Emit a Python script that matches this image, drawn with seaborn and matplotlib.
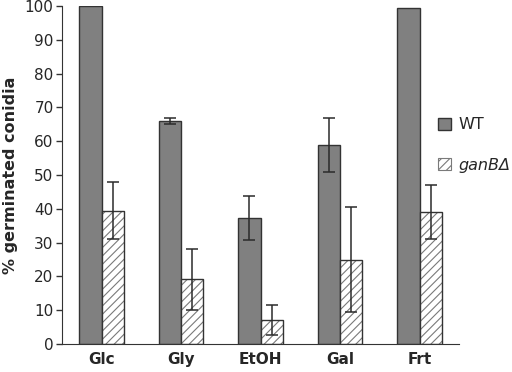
import pandas as pd
import seaborn as sns
import matplotlib.pyplot as plt
from matplotlib.patches import Patch, Rectangle

# Values
sugars = ['Glc', 'Gly', 'EtOH', 'Gal', 'Frt']
wt_mean = [100, 66, 37.3, 59, 99.5]
wt_err = [0, 1, 6.5, 8, 0]
ganb_mean = [39.5, 19.2, 7.2, 25, 39]
ganb_err = [8.5, 9, 4.5, 15.5, 8]
strains = ['WT', 'ganBΔ']

sns.set_style('white')
plt.rcParams['font.family'] = ['DejaVu Sans']
plt.rcParams['hatch.linewidth'] = 0.8

data = pd.DataFrame({
    'sugar': sugars * 2,
    'strain': [strains[0]] * 5 + [strains[1]] * 5,
    'germ': wt_mean + ganb_mean,
    'err': wt_err + ganb_err,
})

fig = plt.figure(figsize=(5.12, 3.72), dpi=100)
ax = fig.add_axes([0.121, 0.075, 0.776, 0.909])

sns.barplot(data=data, x='sugar', y='germ', hue='strain',
            palette=['#808080', 'white'], errorbar=None,
            width=0.56, gap=0, edgecolor='#333333', linewidth=1.0,
            legend=False, ax=ax)

# hatch the mutant bars; hatch takes edge colour, so redraw the outline on top
bars = [p for p in ax.patches if isinstance(p, Rectangle)]
for p in bars[5:]:
    p.set_hatch('////')
    p.set_edgecolor('#7a7a7a')
    p.set_linewidth(0.6)
    ax.add_patch(Rectangle((p.get_x(), p.get_y()), p.get_width(), p.get_height(),
                           fill=False, edgecolor='#333333', linewidth=1.0))

# error bars at the bar centres
centres = [p.get_x() + p.get_width() / 2 for p in bars[:10]]
heights = [p.get_height() for p in bars[:10]]
errs = wt_err + ganb_err
for x, h, e in zip(centres, heights, errs):
    if e > 0:
        ax.errorbar(x, h, yerr=e, color='#2b2b2b', elinewidth=1.1,
                    capsize=4.5, capthick=1.1)

ax.set_ylim(0, 100)
ax.set_xlim(-0.5, 4.5)
ax.set_yticks(range(0, 101, 10))
ax.set_xticks(range(5))
ax.set_xticklabels(sugars, fontweight='bold', fontsize=11)
ax.set_xticks([i - 0.5 for i in range(6)], minor=True)
ax.tick_params(axis='x', which='major', length=0, pad=6)
ax.tick_params(axis='x', which='minor', length=4, width=1, direction='out', color='#333333')
ax.tick_params(axis='y', length=4, width=1, direction='out', color='#333333',
               labelsize=11, left=True, pad=2)
ax.set_xlabel('')
ax.set_ylabel('% germinated conidia', fontweight='bold', fontsize=11.5, labelpad=5)

sns.despine(ax=ax)
ax.spines['left'].set_color('#333333')
ax.spines['bottom'].set_color('#333333')

handles = [
    Patch(facecolor='#808080', edgecolor='#333333', linewidth=1.0),
    Patch(facecolor='white', edgecolor='#7a7a7a', hatch='////', linewidth=0.8),
]
leg = fig.legend(handles, strains, loc='center left', bbox_to_anchor=(0.855, 0.61),
                 frameon=False, borderpad=0, borderaxespad=0, handlelength=0.8,
                 handleheight=0.8, handletextpad=0.5, labelspacing=1.6, fontsize=11.5)
leg.get_texts()[1].set_fontstyle('italic')

fig.savefig('out.png', dpi=100, facecolor='white')
